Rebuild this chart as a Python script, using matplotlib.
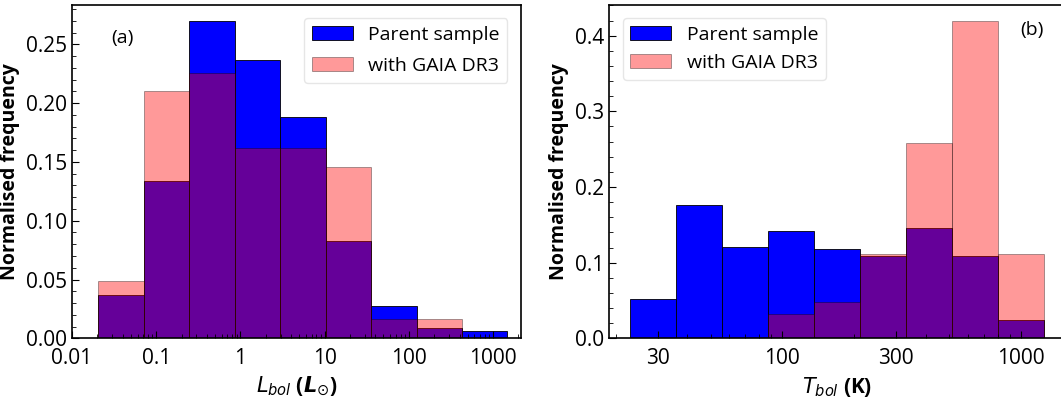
import numpy as np
import matplotlib
matplotlib.use("Agg")
import matplotlib.pyplot as plt
from matplotlib.ticker import FuncFormatter, AutoMinorLocator, LogLocator, NullFormatter

plt.rcParams['font.family'] = ['Open Sans', 'DejaVu Sans']
plt.rcParams['mathtext.fontset'] = 'dejavusans'

# (a) bolometric luminosity histogram, log-spaced bins
lbol_edges = 10 ** (-1.688 + 0.54 * np.arange(10))
lbol_parent = [0.0368, 0.1338, 0.270, 0.237, 0.188, 0.0828, 0.0275, 0.0091, 0.0062]
lbol_gaia = [0.0488, 0.210, 0.226, 0.1616, 0.1616, 0.1457, 0.0162, 0.0164, 0.0]

# (b) bolometric temperature histogram
tbol_edges = 10 ** (1.360 + 0.1931 * np.arange(10))
tbol_parent = [0.052, 0.176, 0.121, 0.142, 0.118, 0.109, 0.146, 0.109, 0.024]
tbol_gaia = [0.0, 0.0, 0.0, 0.0326, 0.048, 0.112, 0.2586, 0.419, 0.112]

W, H = 1061, 397
fig = plt.figure(figsize=(W / 100, H / 100), dpi=100)
ax1 = fig.add_axes([72 / W, 1 - 338.3 / H, 449 / W, 333.6 / H])
ax2 = fig.add_axes([609 / W, 1 - 338.3 / H, 456 / W, 333.6 / H])

fmt = FuncFormatter(lambda v, p: '%g' % v)


def draw(ax, edges, parent, gaia):
    ax.bar(edges[:-1], parent, width=np.diff(edges), align='edge', color='blue',
           edgecolor='black', linewidth=0.6, label='Parent sample')
    ax.bar(edges[:-1], gaia, width=np.diff(edges), align='edge', color='red', alpha=0.4,
           edgecolor='black', linewidth=0.6, label='with GAIA DR3')
    ax.set_xscale('log')
    ax.set_ylabel('Normalised frequency', fontsize=14, fontweight='bold')
    ax.tick_params(which='both', direction='in', labelsize=15)
    ax.tick_params(axis='x', which='major', pad=7)
    ax.tick_params(which='major', length=5)
    ax.tick_params(which='minor', length=3)
    ax.yaxis.set_minor_locator(AutoMinorLocator(5))
    ax.xaxis.set_minor_locator(LogLocator(base=10, subs=np.arange(2, 10)))
    ax.xaxis.set_minor_formatter(NullFormatter())
    for s in ax.spines.values():
        s.set_linewidth(1.2)


draw(ax1, lbol_edges, lbol_parent, lbol_gaia)
ax1.set_xlim(0.01, 2150)
ax1.set_ylim(0, 0.2837)
ax1.set_xticks([0.01, 0.1, 1, 10, 100, 1000])
ax1.xaxis.set_major_formatter(fmt)
ax1.set_yticks(np.arange(0, 0.26, 0.05))
ax1.set_yticklabels(['%.2f' % v for v in np.arange(0, 0.26, 0.05)])
ax1.set_xlabel(r'$L_{bol}$ ($\mathbfit{L}_{\odot}$)', fontsize=15, fontweight='bold')
ax1.text(0.113, 0.90, '(a)', transform=ax1.transAxes, fontsize=14, ha='center', va='center')
ax1.legend(loc='upper right', fontsize=14, handlelength=2.1, borderaxespad=0.7,
           labelspacing=0.65, framealpha=1, edgecolor='#e6e6e6')

draw(ax2, tbol_edges, tbol_parent, tbol_gaia)
ax2.set_xlim(10 ** 1.273, 10 ** 3.185)
ax2.set_ylim(0, 0.441)
ax2.set_xticks([30, 100, 300, 1000])
ax2.xaxis.set_major_formatter(fmt)
ax2.set_yticks([0.0, 0.1, 0.2, 0.3, 0.4])
ax2.set_yticklabels(['0.0', '0.1', '0.2', '0.3', '0.4'])
ax2.set_xlabel(r'$T_{bol}$ (K)', fontsize=15, fontweight='bold')
ax2.text(0.928, 0.924, '(b)', transform=ax2.transAxes, fontsize=14, ha='center', va='center')
ax2.legend(loc='upper left', fontsize=14, handlelength=2.1, borderaxespad=0.7,
           labelspacing=0.5, framealpha=1, edgecolor='#e6e6e6')

fig.savefig('out.png', dpi=100)
